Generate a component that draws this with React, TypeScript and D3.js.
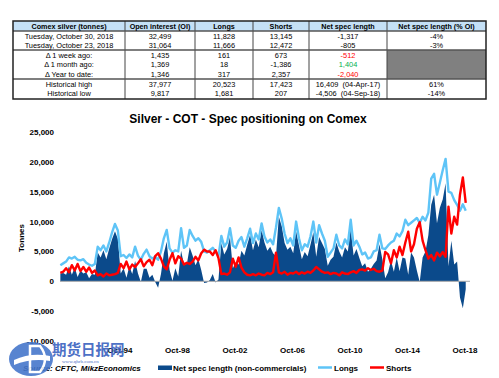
import React from 'react';
import * as d3 from 'd3';

// ---- time index: first observation and spacing (decimal years) ----
const START_YEAR = 1990.6;
const STEP = 0.2;

// ---- series (tonnes) ----
const longs = [
  2700, 3000, 3300, 4000, 3800, 4100, 3600, 3500, 3700, 3100,
  2800, 2600, 2900, 5800, 5200, 6000, 5000, 6500, 8200, 9600,
  8500, 4200, 4400, 3900, 4500, 4000, 5800, 4300, 3600, 4600,
  5300, 4200, 3800, 4100, 3600, 5000, 7200, 8600, 5500, 4800,
  5200, 5000, 8900, 5600, 6000, 8600, 7600, 6800, 7200, 6600,
  5000, 4800, 5200, 5600, 5000, 4200, 7600, 5800, 6500, 8900,
  6000, 5600, 6800, 7400, 5800, 7200, 8800, 6400, 8000, 7000,
  9700, 7500, 6500, 7000, 6200, 9000, 12300, 10500, 8000, 6400,
  7200, 6000, 10000, 7200, 5200, 6200, 5800, 7500, 10000, 6500,
  9400, 8000, 6800, 4100, 4800, 5500, 7800, 6000, 5500, 7000,
  6200, 10300, 6000, 6800, 5800, 4500, 4800, 3800, 4000, 5000,
  5200, 7800, 5500, 5400, 6000, 6500, 6800, 8000, 7500, 8400,
  10300, 9400, 9800, 10200, 10600, 9800, 10800, 10200, 11500, 17200,
  18000, 14500, 16500, 18600, 20500, 15000, 14800, 13600, 12800, 11800,
  12900, 11828,
];
const shorts = [
  1400, 1600, 2200, 1500, 2700, 1800, 2900, 1700, 2400, 1600,
  2300, 1400, 1800, 1000, 1200, 800, 1300, 1000, 1100, 1200,
  1400, 2900, 2200, 3300, 2000, 2800, 2400, 3000, 3700, 2500,
  3200, 3600, 2700, 4200, 4700, 3800, 2500, 2000, 3600, 4700,
  3000, 4200, 3800, 2800, 3100, 2900, 3300, 4100, 3500, 4700,
  5300, 5000, 5000, 4400, 5200, 3900, 1200, 1300, 1100, 1500,
  3800, 2400, 4000, 2300, 1500, 1100, 1000, 1200, 1000, 1300,
  1100, 1000, 1400, 1200, 1500, 4800, 1500, 1300, 1600, 1100,
  1400, 1300, 1600, 1200, 1500, 1300, 1600, 1400, 1800, 2400,
  2000, 1600, 1400, 1500, 1200, 1400, 1300, 1000, 1500, 1300,
  1200, 1500, 1700, 1400, 1900, 2000, 1800, 2200, 1900, 2100,
  1700, 1600, 1800, 4900, 4500, 3000, 5200, 4000, 5800, 4400,
  6500, 8300, 5000, 6200, 8800, 9900, 6800, 5200, 3800, 4400,
  3500, 4800, 4200, 4900, 4100, 12500, 8000, 10800, 9500, 14500,
  17400, 13145,
];

const xTickYears = [1994.75, 1998.75, 2002.75, 2006.75, 2010.75, 2014.75, 2018.75];
const xTickLabels = ['Oct-94', 'Oct-98', 'Oct-02', 'Oct-06', 'Oct-10', 'Oct-14', 'Oct-18'];
const yTicks = [-10000, -5000, 0, 5000, 10000, 15000, 20000, 25000];

// ---- table ----
const tableHeaders = ['Comex silver (tonnes)', 'Open interest (OI)', 'Longs', 'Shorts', 'Net spec length', 'Net spec length (% OI)'];
const tableRows = [
  ['Tuesday, October 30, 2018', '32,499', '11,828', '13,145', '-1,317', '-4%'],
  ['Tuesday, October 23, 2018', '31,064', '11,666', '12,472', '-805', '-3%'],
  ['\u0394 1 week ago:', '1,435', '161', '673', '-512', ''],
  ['\u0394 1 month ago:', '1,369', '18', '-1,386', '1,404', ''],
  ['\u0394 Year to date:', '1,346', '317', '2,357', '-2,040', ''],
  ['Historical high', '37,977', '20,523', '17,423', '16,409  (04-Apr-17)', '61%'],
  ['Historical low', '9,817', '1,681', '207', '-4,506  (04-Sep-18)', '-14%'],
];
const cellColors: Record<string, string> = { '2-4': '#ff0000', '3-4': '#00b050', '4-4': '#ff0000' };

const legendLabels = ['Net spec length (non-commercials)', 'Longs', 'Shorts'];

const FONT = '"Liberation Sans", Arial, sans-serif';
const C_NET = '#0b4a8b';
const C_LONG = '#5ec4f7';
const C_SHORT = '#ff0000';

export default function App() {
  const W = 499, H = 378;
  const x = d3.scaleLinear().domain([1994.75, 2018.75]).range([120, 465]);
  const y = d3.scaleLinear().domain([-10000, 25000]).range([341, 132]);
  const fmt = d3.formatLocale({ decimal: '.', thousands: ',', grouping: [3], currency: ['', ''], minus: '-' }).format(',');

  const data = longs.map((l, i) => ({ t: START_YEAR + STEP * i, l, s: shorts[i], n: l - shorts[i] }));

  const area = d3.area<any>().x(d => x(d.t)).y0(y(0)).y1(d => y(d.n));
  const lineL = d3.line<any>().x(d => x(d.t)).y(d => y(d.l));
  const lineS = d3.line<any>().x(d => x(d.t)).y(d => y(d.s));

  // table geometry
  const colX = [13, 125, 195, 253, 309, 387, 486];
  const headerTop = 21, headerBottom = 31;
  const rowBase = [38.5, 47.5, 57.5, 67, 76.5, 86.5, 96];
  const groupLines = [50, 79];
  const tableBottom = 99;

  return (
    <svg width={W} height={H} style={{ position: 'absolute', left: 0, top: 0, background: '#fff' }} fontFamily={FONT}>
      <rect x={0} y={0} width={W} height={H} fill="#fff" />
      {/* Table */}
      <rect x={colX[0]} y={headerTop} width={colX[6] - colX[0]} height={headerBottom - headerTop} fill="#c4e0f6" />
      <rect x={colX[5]} y={groupLines[0]} width={colX[6] - colX[5]} height={groupLines[1] - groupLines[0]} fill="#808080" />
      {colX.slice(1, 6).map((cx, i) => (
        <line key={'v' + i} x1={cx} x2={cx} y1={headerTop} y2={tableBottom} stroke="#444" strokeWidth={1} />
      ))}
      {[headerBottom, ...groupLines].map((ly, i) => (
        <line key={'h' + i} x1={colX[0]} x2={colX[6]} y1={ly} y2={ly} stroke="#555" strokeWidth={1.3} />
      ))}
      <rect x={colX[0]} y={headerTop} width={colX[6] - colX[0]} height={tableBottom - headerTop} fill="none" stroke="#222" strokeWidth={1.5} />
      {tableHeaders.map((h, j) => (
        <text key={'th' + j} x={(colX[j] + colX[j + 1]) / 2} y={28.8} textAnchor="middle" fontSize={7.2} fontWeight="bold" fill="#000">{h}</text>
      ))}
      {tableRows.map((row, i) =>
        row.map((c, j) => (
          <text key={'td' + i + '-' + j} x={(colX[j] + colX[j + 1]) / 2} y={rowBase[i]} textAnchor="middle" fontSize={7.4}
            fill={cellColors[i + '-' + j] || '#000'} style={{ whiteSpace: 'pre' }}>{c}</text>
        ))
      )}

      {/* Title */}
      <text x={248} y={123} textAnchor="middle" fontSize={12} fontWeight="bold" fill="#000">Silver - COT - Spec positioning on Comex</text>

      {/* Y axis labels */}
      {yTicks.map(v => (
        <text key={'y' + v} x={54} y={y(v) + 3} textAnchor="end" fontSize={8} fontWeight="bold" fill="#000">{fmt(v)}</text>
      ))}
      <text transform="translate(24,238) rotate(-90)" textAnchor="middle" fontSize={8} fontWeight="bold" fill="#000">Tonnes</text>

      {/* Series */}
      <path d={area(data) || ''} fill={C_NET} />
      <line x1={60} x2={470} y1={y(0)} y2={y(0)} stroke="#a6a6a6" strokeWidth={1} />
      <path d={lineL(data) || ''} fill="none" stroke={C_LONG} strokeWidth={2.4} strokeLinejoin="round" />
      <path d={lineS(data) || ''} fill="none" stroke={C_SHORT} strokeWidth={2.4} strokeLinejoin="round" />

      {/* X labels */}
      {xTickYears.map((t, i) => (
        <text key={'x' + i} x={x(t)} y={353} textAnchor="middle" fontSize={8} fontWeight="bold" fill="#000">{xTickLabels[i]}</text>
      ))}

      {/* Source and legend */}
      <text x={23} y={371} fontSize={8} fontWeight="bold" fontStyle="italic" fill="#000">Source: CFTC, MikzEconomics</text>
      <rect x={158} y={365.5} width={14} height={4.5} fill={C_NET} />
      <text x={173} y={371} fontSize={8} fontWeight="bold" fill="#000">{legendLabels[0]}</text>
      <line x1={318} x2={332} y1={367.5} y2={367.5} stroke={C_LONG} strokeWidth={2.5} />
      <text x={334} y={371} fontSize={8} fontWeight="bold" fill="#000">{legendLabels[1]}</text>
      <line x1={370} x2={384} y1={367.5} y2={367.5} stroke={C_SHORT} strokeWidth={2.5} />
      <text x={386} y={371} fontSize={8} fontWeight="bold" fill="#000">{legendLabels[2]}</text>

      {/* Watermark */}
      <g opacity={0.9}>
        <ellipse cx={31} cy={359} rx={22} ry={17} fill="#4677cc" />
        <path d="M 14 360 Q 31 352 50 356 L 50 361 Q 31 358 14 365 Z" fill="#fff" />
        <path d="M 30 346 L 40 346 Q 50 359 40 372 L 30 372 Z" fill="none" stroke="#fff" strokeWidth={2.5} />
        <text x={52} y={355} fontSize={14.5} fontWeight="bold" fill="#3a62c0" fontFamily='"Noto Sans CJK SC", sans-serif'>期货日报网</text>
        <text x={62} y={362.5} fontSize={5} fill="#3a62c0" fontFamily='"Liberation Serif", serif'>www.qhrb.com.cn</text>
      </g>
    </svg>
  );
}
